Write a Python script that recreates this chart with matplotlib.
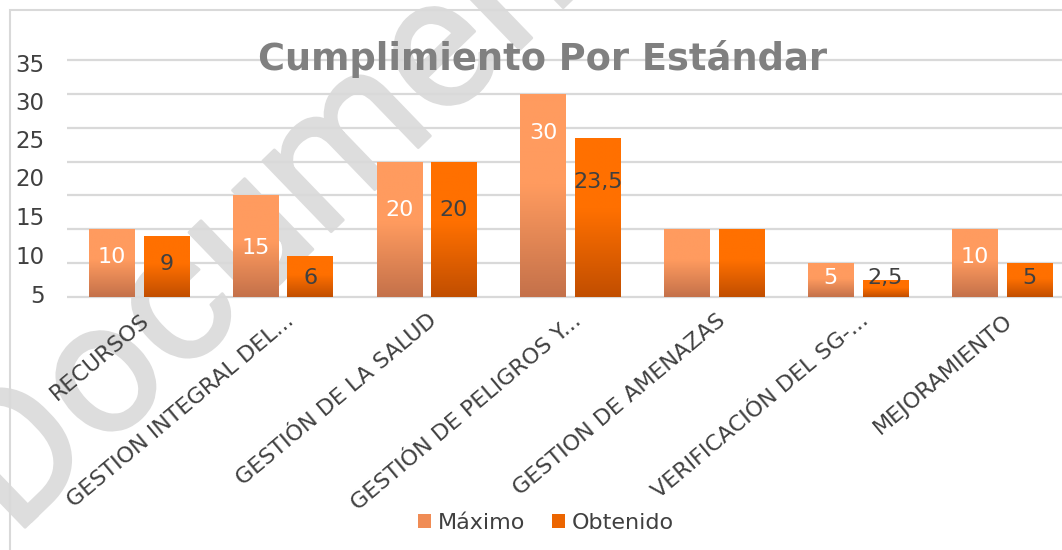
import numpy as np
import matplotlib.pyplot as plt
from matplotlib.patches import Patch, Rectangle
from matplotlib.transforms import ScaledTranslation
from matplotlib import patheffects as pe

# datos del grafico
categorias = ["RECURSOS", "GESTION INTEGRAL DEL...", "GESTIÓN DE LA SALUD",
              "GESTIÓN DE PELIGROS Y...", "GESTION DE AMENAZAS",
              "VERIFICACIÓN DEL SG-...", "MEJORAMIENTO"]
maximo = [10, 15, 20, 30, 10, 5, 10]
obtenido = [9, 6, 20, 23.5, 10, 2.5, 5]
etiq_max = ["10", "15", "20", "30", "", "5", "10"]
etiq_obt = ["9", "6", "20", "23,5", "", "2,5", "5"]
ytick_labels = ["35", "30", "25", "20", "15", "10", "5"]

# donde quedan las etiquetas en la imagen original (desplazadas)
ytick_pos = [34.6, 29.0, 23.4, 17.7, 11.9, 6.2, 0.5]
lab_y_max = [6.2, 7.5, 13.2, 24.5, 0, 3.1, 6.2]
lab_y_obt = [5.1, 3.1, 13.2, 17.3, 0, 3.1, 3.1]

GRIS = "#d9d9d9"
TEXTO = "#404040"
MAX_TOP, MAX_BOT = np.array([255, 155, 95]) / 255, np.array([196, 113, 74]) / 255
OBT_TOP, OBT_BOT = np.array([255, 112, 0]) / 255, np.array([193, 78, 0]) / 255

W, H = 1062, 550
fig = plt.figure(figsize=(W / 100, H / 100), dpi=100)

# marca de agua
fig.text(14 / W, 1 - 538 / H, "Document", fontsize=134, rotation=44,
         rotation_mode="anchor", ha="left", va="baseline", color="#dddddd",
         family=["Roboto", "DejaVu Sans"], zorder=-1,
         path_effects=[pe.withStroke(linewidth=2, foreground="#dddddd")])

ax = fig.add_axes([67 / W, 1 - 297 / H, 1007 / W, 237 / H])
ax.patch.set_visible(False)

x = np.arange(len(categorias))
ancho = 0.316
off = 0.19


def pintar(barras, top, bot):
    t = np.linspace(0, 1, 256)
    f = np.clip(t / 0.55, 0, 1)[:, None]
    cols = bot + (top - bot) * f
    img = cols[:, None, :]
    for b in barras:
        x0, w, h = b.get_x(), b.get_width(), b.get_height()
        im = ax.imshow(img, extent=[x0, x0 + w, 0, h], origin="lower",
                       aspect="auto", zorder=2, interpolation="bilinear")
        im.set_clip_path(b)


b1 = ax.bar(x - off, maximo, ancho, facecolor="none", edgecolor="none", zorder=2)
b2 = ax.bar(x + off, obtenido, ancho, facecolor="none", edgecolor="none", zorder=2)
pintar(b1, MAX_TOP, MAX_BOT)
pintar(b2, OBT_TOP, OBT_BOT)

for i in range(len(categorias)):
    if etiq_max[i]:
        ax.text(x[i] - off, lab_y_max[i], etiq_max[i], ha="center",
                va="center_baseline", fontsize=16, color="white", zorder=4)
    if etiq_obt[i]:
        ax.text(x[i] + off, lab_y_obt[i], etiq_obt[i], ha="center",
                va="center_baseline", fontsize=16, color=TEXTO, zorder=4)

ax.hlines(np.arange(0, 36, 5), -0.5, 6.5, color=GRIS, lw=1.6, zorder=1,
          clip_on=False)

ax.set_xlim(-0.5, 6.5)
ax.set_ylim(0, 35)
for s in ax.spines.values():
    s.set_visible(False)

ax.set_yticks(ytick_pos)
ax.set_yticklabels(ytick_labels)
ax.tick_params(axis="y", length=0, pad=16, labelsize=16.5, labelcolor=TEXTO)
ax.set_xticks([])

trans = ax.get_xaxis_transform() + ScaledTranslation(0.08, -0.21, fig.dpi_scale_trans)
for i, c in enumerate(categorias):
    ax.text(x[i], 0, c, transform=trans, rotation=40, rotation_mode="anchor",
            ha="right", va="center", fontsize=16, color=TEXTO)

fig.text(543 / W, 1 - 70 / H, "Cumplimiento Por Estándar", ha="center",
         va="baseline", fontsize=26.5, fontweight="bold", color="#808080")

handles = [Patch(facecolor="#f08c55"), Patch(facecolor="#ec6500")]
fig.legend(handles, ["Máximo", "Obtenido"], loc="center",
           bbox_to_anchor=(546 / W, 1 - 523 / H), ncol=2, frameon=False,
           fontsize=16, handlelength=0.6, handleheight=0.6,
           handletextpad=0.3, columnspacing=1.2, labelcolor=TEXTO)

# borde del area del grafico
fig.add_artist(Rectangle((10 / W, -0.1), 2, 1 - 10 / H + 0.1,
                         transform=fig.transFigure, fill=False,
                         edgecolor=GRIS, lw=1.5))

fig.savefig("out.png", dpi=100)
